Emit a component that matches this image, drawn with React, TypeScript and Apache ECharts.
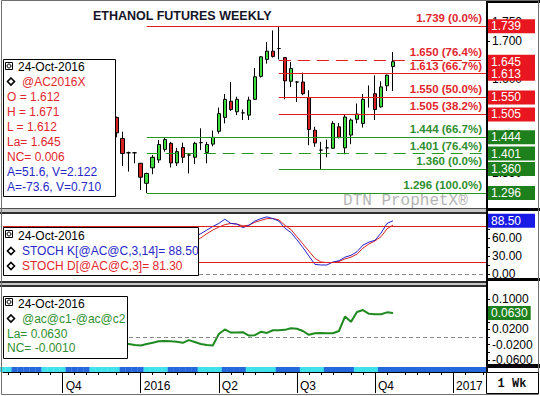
import { useEffect, useRef } from 'react';
import * as echarts from 'echarts';

// ---------- time axis (weekly, Mondays) ----------
const FIRST_WEEK_UTC = Date.UTC(2015, 6, 27);
const WEEK_COUNT = 81;
const weekDates: Date[] = Array.from({ length: WEEK_COUNT }, (_, i) => new Date(FIRST_WEEK_UTC + i * 7 * 86400000));
const quarterStarts = ['2015-10-01', '2016-01-01', '2016-04-01', '2016-07-01', '2016-10-01', '2017-01-01'];
const quarterLabels = ['Q4', '2016', 'Q2', 'Q3', 'Q4', '2017'];
const currentMonthStart = '2016-10-01';

// ---------- price candles (weekly, first = week of 7-Dec-2015) ----------
const candleFirstWeek = 19;
const opens = [1.497, 1.441, 1.403, 1.403, 1.375, 1.322, 1.363, 1.384, 1.412, 1.428, 1.376, 1.417, 1.397, 1.391, 1.430, 1.404, 1.426, 1.460, 1.497, 1.540, 1.512, 1.509, 1.503, 1.545, 1.606, 1.651, 1.673, 1.680, 1.656, 1.593, 1.591, 1.591, 1.550, 1.463, 1.410, 1.416, 1.415, 1.472, 1.416, 1.450, 1.492, 1.481, 1.550, 1.560, 1.525, 1.581, 1.632];
const closes = [1.456, 1.401, 1.403, 1.403, 1.338, 1.348, 1.391, 1.425, 1.438, 1.376, 1.406, 1.391, 1.397, 1.428, 1.430, 1.425, 1.444, 1.507, 1.545, 1.518, 1.545, 1.509, 1.543, 1.605, 1.658, 1.673, 1.659, 1.680, 1.594, 1.627, 1.591, 1.560, 1.465, 1.429, 1.410, 1.416, 1.481, 1.444, 1.498, 1.490, 1.506, 1.545, 1.550, 1.518, 1.578, 1.609, 1.645];
const lows = [1.444, 1.368, 1.353, 1.375, 1.304, 1.296, 1.346, 1.376, 1.406, 1.364, 1.368, 1.376, 1.348, 1.373, 1.410, 1.375, 1.420, 1.454, 1.481, 1.514, 1.503, 1.490, 1.490, 1.543, 1.603, 1.640, 1.656, 1.651, 1.545, 1.578, 1.538, 1.556, 1.423, 1.419, 1.360, 1.391, 1.413, 1.441, 1.399, 1.426, 1.481, 1.470, 1.523, 1.490, 1.523, 1.567, 1.567];
const highs = [1.499, 1.459, 1.406, 1.405, 1.376, 1.350, 1.397, 1.437, 1.444, 1.432, 1.416, 1.430, 1.399, 1.432, 1.468, 1.432, 1.462, 1.523, 1.559, 1.591, 1.552, 1.518, 1.552, 1.628, 1.660, 1.697, 1.728, 1.739, 1.656, 1.644, 1.593, 1.616, 1.569, 1.472, 1.432, 1.438, 1.487, 1.482, 1.505, 1.494, 1.534, 1.559, 1.582, 1.609, 1.593, 1.611, 1.671];

// ---------- Fibonacci levels ----------
const fibLevels = [1.739, 1.650, 1.613, 1.550, 1.505, 1.444, 1.401, 1.360, 1.296];
const fibPercents = ['0.0%', '76.4%', '66.7%', '50.0%', '38.2%', '66.7%', '76.4%', '0.0%', '100.0%'];
const fibStartWeeks = [24, 46, 46, 46, 46, 24, 24, 46, 24];
const fibIsRed = [true, true, true, true, true, false, false, false, false];
const fibDashed = [false, true, false, false, false, false, true, false, false];
const priceBoxValues = [1.296, 1.360, 1.401, 1.444, 1.505, 1.550, 1.645, 1.613, 1.739];
const priceBoxRed = [false, false, false, false, true, true, true, true, true];
const priceTicks = [1.30, 1.35, 1.40, 1.45, 1.50, 1.55, 1.60, 1.65, 1.70, 1.75];

// ---------- stochastics ----------
const stochFirstWeek = 32;
const stochK = [62, 67, 73, 79, 84, 91, 84, 83, 77, 81, 88, 92, 95, 92, 88, 76, 69, 57, 44, 30, 16, 15, 15, 20, 22, 28, 31, 37, 48, 53, 56, 68, 84, 88.5];
const stochD = [54, 60, 67, 73, 78, 82, 84, 83, 80, 81, 86, 89, 92, 92, 90, 81, 74, 62, 50, 38, 26, 20, 19, 19, 21, 25, 28, 33, 43, 50, 55, 62, 75, 81.3];
const stochBands = [80, 20];
const stochTicks = [0, 15, 30, 45, 60, 75, 90];
const stochLabels = [0, 30, 60, 90];
const stochBoxValues = [81.3, 88.5];

// ---------- spread ----------
const spreadFirstWeek = 20;
const spread = [-0.016, -0.018, -0.021, -0.022, -0.018, -0.015, -0.011, -0.010, -0.011, -0.012, -0.015, -0.008, -0.013, -0.018, -0.021, -0.022,
  0.008, 0.020, 0.012, 0.012, 0.013, 0.004, 0.005, 0.014, 0.011, 0.018, 0.018, 0.019, 0.023, 0.022, 0.016, 0.006, 0.010, 0.011, 0.010, 0.010,
  0.016, 0.054, 0.040, 0.066, 0.071, 0.061, 0.060, 0.060, 0.065, 0.063];
const spreadTicks = [-0.06, -0.04, -0.02, 0, 0.02, 0.04, 0.06, 0.08, 0.1];
const spreadLabels = [-0.06, -0.02, 0.02, 0.06, 0.1];
const spreadBoxValues = [0.063];

// ---------- legend texts ----------
const legendDate = '24-Oct-2016';
const priceLegendSymbol = '@AC2016X';
const priceLegendRed = ['O = 1.612', 'H = 1.671', 'L = 1.612', 'La= 1.645', 'NC= 0.006'];
const priceLegendBlue = ['A=51.6, V=2.122', 'A=-73.6, V=0.710'];
const stochLegend = ['STOCH K[@AC@C,3,14]= 88.50', 'STOCH D[@AC@C,3]= 81.30'];
const spreadLegendSymbol = '@ac@c1-@ac@c2';
const spreadLegendLines = ['La= 0.0630', 'NC= -0.0010'];

const FONT = '"Liberation Sans", Arial, Helvetica, sans-serif';
const MONO = '"Liberation Mono", "Courier New", monospace';
const RED = '#e3262d';
const RED_BOX = '#e8161e';
const GREEN = '#2f8f2f';
const GREEN_BOX = '#1d801d';
const BLUE = '#2828c8';
const X_MIN = 0.07;
const X_MAX = 80.48;

function weekIndexOnOrAfter(iso: string): number {
  const t = Date.parse(iso + 'T00:00:00Z');
  return weekDates.findIndex((d) => d.getTime() >= t);
}

function buildOption(): any {
  const quarterIdx = quarterStarts.map(weekIndexOnOrAfter);
  const labelByIdx: Record<number, string> = {};
  quarterIdx.forEach((q, i) => (labelByIdx[q] = quarterLabels[i]));

  // minor ticks: first and third Monday of each month
  const minorIdx: number[] = [];
  weekDates.forEach((d, i) => {
    const day = d.getUTCDate();
    if (day <= 7 || (day >= 15 && day <= 21)) minorIdx.push(i);
  });

  // month strip: alternating colours, the bar is coloured by the month of the previous week
  const curMonth = Date.parse(currentMonthStart + 'T00:00:00Z');
  const stripData = weekDates.map((d, i) => {
    const shifted = new Date(d.getTime() - 7 * 86400000);
    const blue = shifted.getTime() >= curMonth || shifted.getUTCMonth() % 2 === 1;
    return { value: [i, 1], itemStyle: { color: blue ? '#2468dc' : '#3fe2ea' } };
  });

  const candleData = opens.map((o, i) => [candleFirstWeek + i, o, closes[i], lows[i], highs[i]]);
  const kData = stochK.map((v, i) => [stochFirstWeek + i, v]);
  const dData = stochD.map((v, i) => [stochFirstWeek + i, v]);
  const spreadData = spread.map((v, i) => [spreadFirstWeek + i, v]);

  const fibLines = fibLevels.map((lv, i) => {
    const c = fibIsRed[i] ? '#e01f1f' : '#229a22';
    const ls = { color: c, width: 1, type: fibDashed[i] ? [12, 7] : 'solid' };
    return [
      {
        coord: [fibStartWeeks[i], lv],
        lineStyle: ls,
        label: {
          show: true,
          position: 'insideEndTop',
          distance: [4, 2],
          formatter: `${lv.toFixed(3)} (${fibPercents[i]})`,
          color: fibIsRed[i] ? RED : GREEN,
          fontFamily: FONT,
          fontSize: 11.5,
          fontWeight: 'bold',
        },
      },
      { coord: [X_MAX, lv], lineStyle: ls },
    ];
  });

  const hiddenX = (gi: number) => ({ type: 'value', gridIndex: gi, min: X_MIN, max: X_MAX, show: false });

  const mainY = (gi: number, min: number, max: number, ticks: number[], labels: number[], digits: number) => ({
    type: 'value', gridIndex: gi, position: 'right', min, max,
    axisLine: { show: false },
    splitLine: { show: false },
    axisTick: { show: true, customValues: ticks, length: 4, lineStyle: { color: '#000' } },
    axisLabel: { show: true, customValues: labels, margin: 6, color: '#000', fontFamily: FONT, fontSize: 12, formatter: (v: number) => v.toFixed(digits) },
  });

  const boxY = (gi: number, min: number, max: number, values: number[], styles: string[], digits: number, width?: number) => {
    const styleByVal: Record<string, string> = {};
    values.forEach((v, i) => (styleByVal[v.toFixed(digits)] = styles[i]));
    const mk = (bg: string) => ({ backgroundColor: bg, color: '#fff', fontFamily: FONT, fontSize: 12, width, height: 14, lineHeight: 14, padding: [0, 3, 0, 3] });
    return {
      type: 'value', gridIndex: gi, position: 'right', min, max, z: 10,
      axisLine: { show: false }, axisTick: { show: false }, splitLine: { show: false },
      axisLabel: {
        show: true, customValues: values, margin: 2,
        formatter: (v: number) => `{${styleByVal[v.toFixed(digits)]}|${v.toFixed(digits)}}`,
        rich: { r: mk(RED_BOX), g: mk(GREEN_BOX), b: mk('#1a1ae6') },
      },
    };
  };

  const T = (text: string, x: number, y: number, fill: string, font = `12px ${FONT}`) => ({
    type: 'text', z: 101, style: { text, x, y, fill, font, verticalAlign: 'middle' },
  });
  const diamond = (cx: number, cy: number) => ({
    type: 'polygon', z: 101,
    shape: { points: [[cx, cy - 3.5], [cx + 3.5, cy], [cx, cy + 3.5], [cx - 3.5, cy]] },
    style: { fill: '#fff', stroke: '#000', lineWidth: 1.6 },
  });
  const icon = (x: number, y: number) => ([
    { type: 'rect', z: 101, shape: { x: x + 0.5, y: y + 0.5, width: 7, height: 7 }, style: { fill: '#fff', stroke: '#000', lineWidth: 1 } },
    { type: 'circle', z: 101, shape: { cx: x + 4, cy: y + 4, r: 2 }, style: { fill: 'none', stroke: '#000', lineWidth: 1 } },
  ]);
  const box = (x: number, y: number, w: number, h: number) => ({
    type: 'rect', z: 100, shape: { x: x + 0.5, y: y + 0.5, width: w, height: h }, style: { fill: '#fff', stroke: '#000', lineWidth: 1 },
  });
  const R = (x: number, y: number, w: number, h: number, fill: string) => ({ type: 'rect', z: 99, shape: { x, y, width: w, height: h }, style: { fill } });

  const graphics: any[] = [
    // title
    { type: 'text', z: 101, style: { text: 'ETHANOL FUTURES WEEKLY', x: 93, y: 16, fill: '#151528', font: `bold 12.5px ${FONT}`, verticalAlign: 'middle' } },
    // watermark
    { type: 'text', z: 5, style: { text: 'DTN ProphetX®', x: 343, y: 201, fill: '#b4b4b4', font: `16px ${MONO}`, verticalAlign: 'middle' } },
    // panel separators
    R(0, 208, 486, 6, '#c8c8c8'), R(0, 208, 486, 1, '#505050'), R(0, 212, 486, 2, '#303030'),
    R(0, 281, 486, 6, '#c8c8c8'), R(0, 281, 486, 2, '#303030'), R(0, 285, 486, 2, '#303030'),
    // right column
    R(486, 0, 2, 372, '#000'),
    R(486, 0, 54, 3, '#000'), R(486, 208, 54, 3, '#000'), R(486, 278, 54, 3, '#000'), R(486, 364, 54, 4, '#000'),
    // outer frame
    { type: 'rect', z: 99, shape: { x: 1.5, y: 0.5, width: 537, height: 394 }, style: { fill: 'none', stroke: '#707070', lineWidth: 1 } },
    // 1 Wk box
    { type: 'rect', z: 99, shape: { x: 486.5, y: 372.5, width: 52, height: 21 }, style: { fill: '#fff', stroke: '#000', lineWidth: 1 } },
    { type: 'text', z: 101, style: { text: '1 Wk', x: 512, y: 384, fill: '#111', font: `bold 12px ${MONO}`, align: 'center', verticalAlign: 'middle' } },

    // price legend
    box(3, 59, 112, 137),
    ...icon(5, 62),
    T(legendDate, 18, 66.5, '#000'),
    diamond(11, 81.5), T(priceLegendSymbol, 22, 81.5, RED),
    ...priceLegendRed.map((s, i) => T(s, 7, 96.5 + i * 15, RED)),
    ...priceLegendBlue.map((s, i) => T(s, 7, 172 + i * 14.5, BLUE)),

    // stoch legend
    box(3, 227, 195, 48),
    ...icon(5, 230),
    T(legendDate, 18, 235.5, '#000'),
    ...stochLegend.map((s, i) => T(s, 22, 251 + i * 15, i === 0 ? BLUE : RED)),
    diamond(11, 251), diamond(11, 266),

    // spread legend
    box(3, 296, 124, 62),
    ...icon(5, 298),
    T(legendDate, 18, 303.5, '#000'),
    diamond(11, 318.5), T(spreadLegendSymbol, 22, 318.5, GREEN),
    ...spreadLegendLines.map((s, i) => T(s, 7, 333.5 + i * 14.5, GREEN)),
  ];

  return {
    animation: false,
    backgroundColor: '#fff',
    grid: [
      { left: 3, top: 3, width: 483, height: 204 },
      { left: 3, top: 214, width: 483, height: 67 },
      { left: 3, top: 287, width: 483, height: 80 },
      { left: 3, top: 367, width: 483, height: 5 },
    ],
    xAxis: [
      hiddenX(0), hiddenX(1), hiddenX(2),
      {
        type: 'value', gridIndex: 3, min: X_MIN, max: X_MAX, position: 'bottom',
        axisLine: { show: true, lineStyle: { color: '#000', width: 1 } },
        axisTick: { show: true, customValues: minorIdx, length: 3, lineStyle: { color: '#000' } },
        axisLabel: { show: false }, splitLine: { show: false },
      },
      {
        type: 'value', gridIndex: 3, min: X_MIN, max: X_MAX, position: 'bottom',
        axisLine: { show: false },
        axisTick: { show: true, customValues: quarterIdx, length: 21, lineStyle: { color: '#000' } },
        axisLabel: {
          show: true, customValues: quarterIdx, margin: 8, align: 'left', padding: [0, 0, 0, 3],
          color: '#000', fontFamily: FONT, fontSize: 12,
          formatter: (v: number) => labelByIdx[Math.round(v)] ?? '',
        },
        splitLine: { show: false },
      },
    ],
    yAxis: [
      mainY(0, 1.2589, 1.801, priceTicks, priceTicks, 3),
      boxY(0, 1.2589, 1.801, priceBoxValues, priceBoxValues.map((_, i) => (priceBoxRed[i] ? 'r' : 'g')), 3, 41),
      mainY(1, -11.6, 99.7, stochTicks, stochLabels, 2),
      boxY(1, -11.6, 99.7, stochBoxValues, ['r', 'b'], 2, 41),
      mainY(2, -0.0785, 0.1315, spreadTicks, spreadLabels, 4),
      boxY(2, -0.0785, 0.1315, spreadBoxValues, ['g'], 4),
      { type: 'value', gridIndex: 3, min: 0, max: 1, show: false },
    ],
    series: [
      {
        type: 'candlestick', xAxisIndex: 0, yAxisIndex: 0, data: candleData, barWidth: 4, z: 3,
        itemStyle: { color: '#3ddc3d', color0: '#d42222', borderColor: '#000', borderColor0: '#000', borderColorDoji: '#000', borderWidth: 1 },
        markLine: { symbol: ['none', 'none'], silent: true, animation: false, data: fibLines },
      },
      {
        type: 'line', xAxisIndex: 1, yAxisIndex: 2, data: kData, showSymbol: false, z: 4,
        lineStyle: { color: '#2222cc', width: 1 },
        markLine: {
          symbol: ['none', 'none'], silent: true, label: { show: false },
          data: [{ yAxis: 0, lineStyle: { color: '#888', type: [4, 3], width: 1 } }],
        },
      },
      {
        type: 'line', xAxisIndex: 1, yAxisIndex: 2, data: dData, showSymbol: false, z: 3,
        lineStyle: { color: '#d42222', width: 1 },
        markLine: {
          symbol: ['none', 'none'], silent: true, label: { show: false },
          data: stochBands.map((b) => ({ yAxis: b, lineStyle: { color: '#dd1f1f', type: 'solid', width: 1 } })),
        },
      },
      {
        type: 'line', xAxisIndex: 2, yAxisIndex: 4, data: spreadData, showSymbol: false, z: 3,
        lineStyle: { color: '#1f8a1f', width: 2 },
        markLine: {
          symbol: ['none', 'none'], silent: true, label: { show: false },
          data: [{ yAxis: 0, lineStyle: { color: '#888', type: [4, 3], width: 1 } }],
        },
      },
      {
        type: 'bar', xAxisIndex: 3, yAxisIndex: 6, data: stripData, barWidth: 6.2, silent: true,
      },
    ],
    graphic: { elements: graphics },
  };
}

export default function App() {
  const ref = useRef<HTMLDivElement>(null);
  useEffect(() => {
    document.body.style.margin = '0';
    const chart = echarts.init(ref.current!, null, { renderer: 'svg' });
    chart.setOption(buildOption());
    return () => chart.dispose();
  }, []);
  return <div ref={ref} style={{ width: 540, height: 396 }} />;
}
